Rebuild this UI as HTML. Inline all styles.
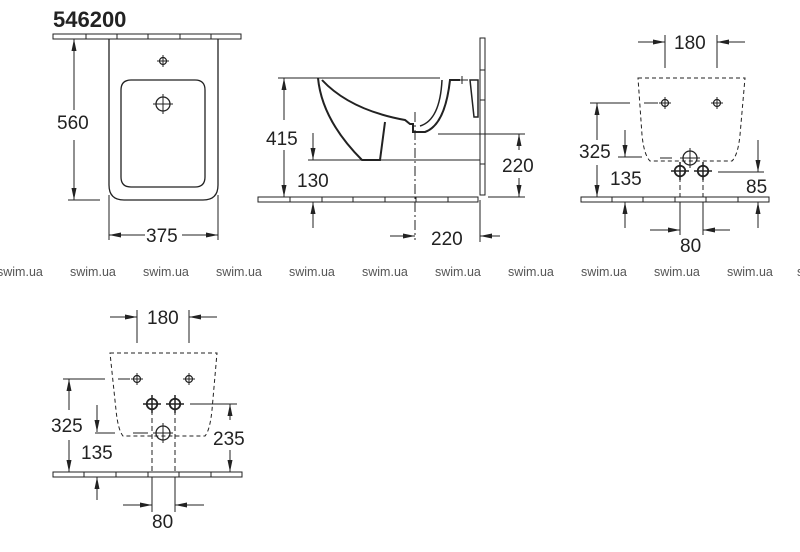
<!DOCTYPE html>
<html><head><meta charset="utf-8"><style>
html,body{margin:0;padding:0;background:#fff;}
svg{display:block;}
text{font-family:"Liberation Sans",Arial,sans-serif;fill:#222;}
.d{font-size:19px;}
.w{font-size:12.5px;fill:#555;}
.ar{marker-end:url(#a);}
</style></head><body>
<svg width="800" height="552" viewBox="0 0 800 552" xmlns="http://www.w3.org/2000/svg">
<defs>
<marker id="a" viewBox="0 0 12 6" refX="12" refY="3" markerWidth="12" markerHeight="6" markerUnits="userSpaceOnUse" orient="auto"><path d="M0,0.5 L12,3 L0,5.5 z" fill="#222"/></marker>
<g id="cr"><circle r="3.5" fill="none" stroke="#222" stroke-width="1.2"/><path d="M-6,0H6M0,-6V6" stroke="#222" stroke-width="1"/></g>
<g id="bc"><circle r="7" fill="none" stroke="#222" stroke-width="1.3"/><path d="M-10,0H10M0,-10V10" stroke="#222" stroke-width="1"/></g>
</defs>
<g stroke="#222" fill="none" stroke-width="1">
<path d="M53,34H241V39H53Z M86,34V39 M117,34V39 M148,34V39 M180,34V39 M211,34V39"/>
<path d="M109,39V185Q109,200 124,200H203Q218,200 218,185V39" stroke-width="1.3"/>
<path d="M131,80H195Q205,80 205,90V177Q205,187 195,187H131Q121,187 121,177V90Q121,80 131,80Z" stroke-width="1.3"/>
<path d="M68,200H100"/>
<path class="ar" d="M74,110V39"/><path class="ar" d="M74,140V200"/>
<path d="M109,195V240 M218,195V240"/>
<path class="ar" d="M145,235H109"/><path class="ar" d="M182,235H218"/>

<path d="M258,197H478V202H258Z M290,197V202 M322,197V202 M353,197V202 M385,197V202 M416,197V202 M448,197V202"/>
<path d="M480,38H485V195H480Z M480,70H485 M480,100H485 M480,134H485 M480,164H485"/>
<path d="M278,78H440"/>
<path d="M318,78Q322,120 362,160H380L385,122" stroke-width="2"/>
<path d="M322,80Q350,110 405,120L410,124H413V132H425Q445,125 450,80H460" stroke-width="2"/>
<path d="M442,80Q440,120 420,126" stroke-width="1.5"/>
<path d="M470,80H478V117H474Z" stroke-width="1.5"/>
<path d="M455,80H468 M462,76V84"/>
<path class="ar" d="M284,120V78"/><path class="ar" d="M284,150V197"/>
<path d="M308,160H480 M438,134H525 M488,197H525"/>
<path class="ar" d="M313,133V160"/><path class="ar" d="M313,228V202"/>
<path class="ar" d="M519,150V134"/><path class="ar" d="M519,178V197"/>
<path d="M415,112V240" stroke-dasharray="10,3,2,3"/>
<path d="M480,200V242"/>
<path class="ar" d="M390,236H415"/><path class="ar" d="M500,236H480"/>

<path d="M581,197H769V202H581Z M612,197V202 M643,197V202 M675,197V202 M706,197V202 M738,197V202"/>
<path d="M638,78H745L740,135Q738,155 732,161H650Q644,155 642,135Z" stroke-dasharray="4,3"/>
<path d="M665,35V68 M717,35V68"/>
<path class="ar" d="M638,42H665"/><path class="ar" d="M745,42H717"/>
<path d="M590,103H630 M644,103H658"/>
<path class="ar" d="M597,140V103"/><path class="ar" d="M597,165V197"/>
<path d="M618,157H642 M660,158H672"/>
<path class="ar" d="M625,130V157"/><path class="ar" d="M625,228V202"/>
<path d="M718,172H764"/>
<path class="ar" d="M758,140V172"/><path class="ar" d="M758,228V202"/>
<path d="M680,177V197 M703,177V197" stroke-dasharray="5,3"/>
<path d="M680,202V235 M703,202V235"/>
<path class="ar" d="M650,230H680"/><path class="ar" d="M730,230H703"/>

<path d="M53,472H242V477H53Z M84,472V477 M116,472V477 M148,472V477 M179,472V477 M211,472V477"/>
<path d="M110,353H217L212,410Q210,430 205,436H123Q118,430 116,410Z" stroke-dasharray="4,3"/>
<path d="M137,310V343 M189,310V343"/>
<path class="ar" d="M110,317H137"/><path class="ar" d="M217,317H189"/>
<path d="M63,379H105 M118,379H130"/>
<path class="ar" d="M69,410V379"/><path class="ar" d="M69,440V472"/>
<path d="M95,433H115 M133,433H148"/>
<path class="ar" d="M97,405V432"/><path class="ar" d="M97,500V477"/>
<path d="M190,404H237"/>
<path class="ar" d="M230,420V404"/><path class="ar" d="M230,450V472"/>
<path d="M152,410V472 M175,410V472" stroke-dasharray="5,3"/>
<path d="M152,477V512 M175,477V512"/>
<path class="ar" d="M123,505H152"/><path class="ar" d="M204,505H175"/>
</g>
<use href="#cr" x="163" y="61"/>
<use href="#bc" x="163" y="104"/>
<use href="#cr" x="665" y="103"/><use href="#cr" x="717" y="103"/>
<use href="#bc" x="690" y="158"/>
<g transform="translate(680,171) scale(1.5)"><use href="#cr"/></g>
<g transform="translate(703,171) scale(1.5)"><use href="#cr"/></g>
<use href="#cr" x="137" y="379"/><use href="#cr" x="189" y="379"/>
<g transform="translate(152,404) scale(1.5)"><use href="#cr"/></g>
<g transform="translate(175,404) scale(1.5)"><use href="#cr"/></g>
<use href="#bc" x="163" y="433"/>

<text x="53" y="27" style="font-size:22px;font-weight:bold">546200</text>
<text class="d" x="57" y="129">560</text>
<text class="d" x="146" y="242">375</text>
<text class="d" x="266" y="145">415</text>
<text class="d" x="297" y="187">130</text>
<text class="d" x="502" y="172">220</text>
<text class="d" x="431" y="245">220</text>
<text class="d" x="674" y="49">180</text>
<text class="d" x="579" y="158">325</text>
<text class="d" x="610" y="185">135</text>
<text class="d" x="746" y="193">85</text>
<text class="d" x="680" y="252">80</text>
<text class="d" x="147" y="324">180</text>
<text class="d" x="51" y="432">325</text>
<text class="d" x="81" y="459">135</text>
<text class="d" x="213" y="445">235</text>
<text class="d" x="152" y="528">80</text>

<text class="w" x="-3" y="276">swim.ua</text>
<text class="w" x="70" y="276">swim.ua</text>
<text class="w" x="143" y="276">swim.ua</text>
<text class="w" x="216" y="276">swim.ua</text>
<text class="w" x="289" y="276">swim.ua</text>
<text class="w" x="362" y="276">swim.ua</text>
<text class="w" x="435" y="276">swim.ua</text>
<text class="w" x="508" y="276">swim.ua</text>
<text class="w" x="581" y="276">swim.ua</text>
<text class="w" x="654" y="276">swim.ua</text>
<text class="w" x="727" y="276">swim.ua</text>
<text class="w" x="797" y="276">swim.ua</text>
</svg>
</body></html>
